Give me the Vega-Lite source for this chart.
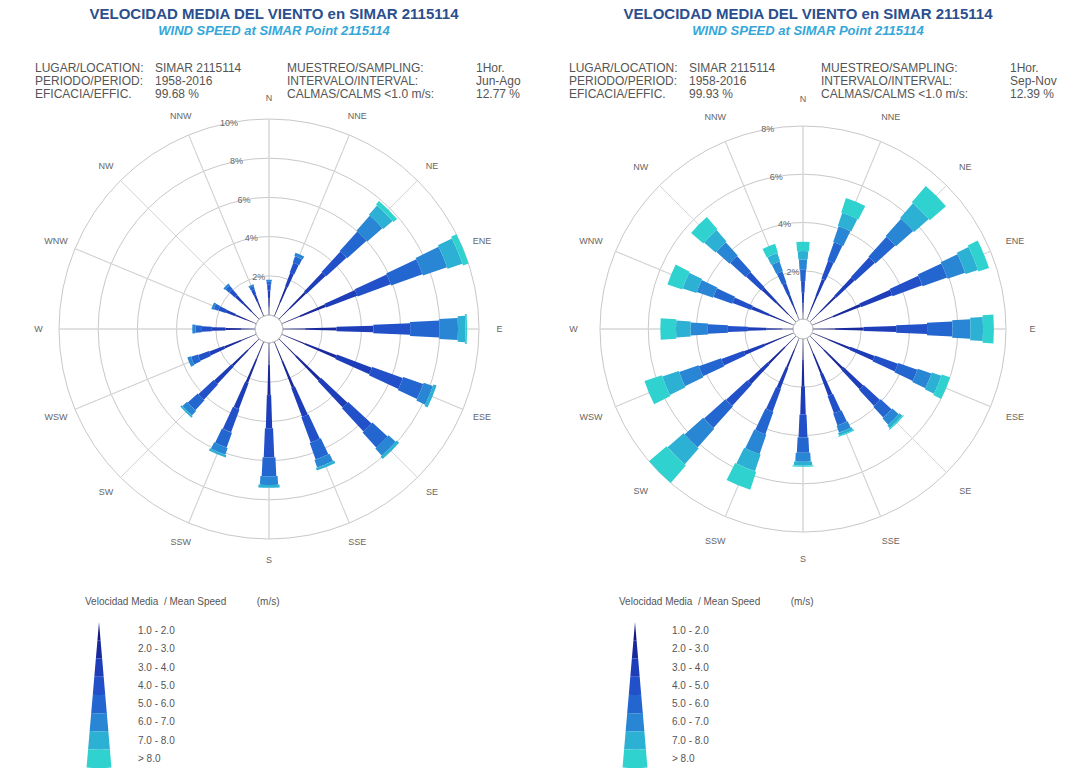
{
  "$schema": "https://vega.github.io/schema/vega-lite/v6.json",
  "background": "white",
  "padding": {"left": 19, "top": 7, "right": 0, "bottom": 0},
  "config": {
    "font": "Liberation Sans",
    "view": {"stroke": null},
    "title": {"font": "Liberation Sans", "subtitleFont": "Liberation Sans"}
  },
  "datasets": {
    "dirs": [
      {"d": "N", "a": 0}, {"d": "NNE", "a": 22.5}, {"d": "NE", "a": 45}, {"d": "ENE", "a": 67.5},
      {"d": "E", "a": 90}, {"d": "ESE", "a": 112.5}, {"d": "SE", "a": 135}, {"d": "SSE", "a": 157.5},
      {"d": "S", "a": 180}, {"d": "SSW", "a": 202.5}, {"d": "SW", "a": 225}, {"d": "WSW", "a": 247.5},
      {"d": "W", "a": 270}, {"d": "WNW", "a": 292.5}, {"d": "NW", "a": 315}, {"d": "NNW", "a": 337.5}
    ],
    "ringsL": [{"p": 2, "lab": "2%"}, {"p": 4, "lab": "4%"}, {"p": 6, "lab": "6%"}, {"p": 8, "lab": "8%"}, {"p": 10, "lab": "10%"}],
    "ringsR": [{"p": 2, "lab": "2%"}, {"p": 4, "lab": "4%"}, {"p": 6, "lab": "6%"}, {"p": 8, "lab": "8%"}],
    "legSeg": [
      {"c": 1, "lo": 1, "hi": 2}, {"c": 2, "lo": 2, "hi": 3}, {"c": 3, "lo": 3, "hi": 4}, {"c": 4, "lo": 4, "hi": 5},
      {"c": 5, "lo": 5, "hi": 6}, {"c": 6, "lo": 6, "hi": 7}, {"c": 7, "lo": 7, "hi": 8}, {"c": 8, "lo": 8, "hi": 9}
    ],
    "legLab": [
      {"lab": "1.0 - 2.0", "mid": 1.5}, {"lab": "2.0 - 3.0", "mid": 2.5}, {"lab": "3.0 - 4.0", "mid": 3.5},
      {"lab": "4.0 - 5.0", "mid": 4.5}, {"lab": "5.0 - 6.0", "mid": 5.5}, {"lab": "6.0 - 7.0", "mid": 6.5},
      {"lab": "7.0 - 8.0", "mid": 7.5}, {"lab": "> 8.0", "mid": 8.5}
    ],
    "L": [
      {"d":"N","a":0,"c":1,"v":0.4},{"d":"N","a":0,"c":2,"v":0.45},{"d":"N","a":0,"c":3,"v":0.4},{"d":"N","a":0,"c":4,"v":0.29},{"d":"N","a":0,"c":5,"v":0.18},{"d":"N","a":0,"c":6,"v":0.08},{"d":"N","a":0,"c":7,"v":0},{"d":"N","a":0,"c":8,"v":0},
      {"d":"NNE","a":22.5,"c":1,"v":0.75},{"d":"NNE","a":22.5,"c":2,"v":0.85},{"d":"NNE","a":22.5,"c":3,"v":0.75},{"d":"NNE","a":22.5,"c":4,"v":0.54},{"d":"NNE","a":22.5,"c":5,"v":0.34},{"d":"NNE","a":22.5,"c":6,"v":0.17},{"d":"NNE","a":22.5,"c":7,"v":0},{"d":"NNE","a":22.5,"c":8,"v":0},
      {"d":"NE","a":45,"c":1,"v":0.79},{"d":"NE","a":45,"c":2,"v":1.11},{"d":"NE","a":45,"c":3,"v":1.34},{"d":"NE","a":45,"c":4,"v":1.42},{"d":"NE","a":45,"c":5,"v":1.34},{"d":"NE","a":45,"c":6,"v":1.03},{"d":"NE","a":45,"c":7,"v":0.63},{"d":"NE","a":45,"c":8,"v":0.24},
      {"d":"ENE","a":67.5,"c":1,"v":1.0},{"d":"ENE","a":67.5,"c":2,"v":1.4},{"d":"ENE","a":67.5,"c":3,"v":1.7},{"d":"ENE","a":67.5,"c":4,"v":1.8},{"d":"ENE","a":67.5,"c":5,"v":1.7},{"d":"ENE","a":67.5,"c":6,"v":1.3},{"d":"ENE","a":67.5,"c":7,"v":0.8},{"d":"ENE","a":67.5,"c":8,"v":0.3},
      {"d":"E","a":90,"c":1,"v":1.13},{"d":"E","a":90,"c":2,"v":1.6},{"d":"E","a":90,"c":3,"v":1.88},{"d":"E","a":90,"c":4,"v":1.88},{"d":"E","a":90,"c":5,"v":1.5},{"d":"E","a":90,"c":6,"v":0.94},{"d":"E","a":90,"c":7,"v":0.38},{"d":"E","a":90,"c":8,"v":0.09},
      {"d":"ESE","a":112.5,"c":1,"v":1.25},{"d":"ESE","a":112.5,"c":2,"v":1.74},{"d":"ESE","a":112.5,"c":3,"v":1.91},{"d":"ESE","a":112.5,"c":4,"v":1.66},{"d":"ESE","a":112.5,"c":5,"v":1.08},{"d":"ESE","a":112.5,"c":6,"v":0.5},{"d":"ESE","a":112.5,"c":7,"v":0.17},{"d":"ESE","a":112.5,"c":8,"v":0},
      {"d":"SE","a":135,"c":1,"v":1.22},{"d":"SE","a":135,"c":2,"v":1.7},{"d":"SE","a":135,"c":3,"v":1.86},{"d":"SE","a":135,"c":4,"v":1.62},{"d":"SE","a":135,"c":5,"v":1.05},{"d":"SE","a":135,"c":6,"v":0.49},{"d":"SE","a":135,"c":7,"v":0.16},{"d":"SE","a":135,"c":8,"v":0},
      {"d":"SSE","a":157.5,"c":1,"v":1.04},{"d":"SSE","a":157.5,"c":2,"v":1.45},{"d":"SSE","a":157.5,"c":3,"v":1.59},{"d":"SSE","a":157.5,"c":4,"v":1.38},{"d":"SSE","a":157.5,"c":5,"v":0.9},{"d":"SSE","a":157.5,"c":6,"v":0.41},{"d":"SSE","a":157.5,"c":7,"v":0.14},{"d":"SSE","a":157.5,"c":8,"v":0},
      {"d":"S","a":180,"c":1,"v":1.11},{"d":"S","a":180,"c":2,"v":1.55},{"d":"S","a":180,"c":3,"v":1.7},{"d":"S","a":180,"c":4,"v":1.48},{"d":"S","a":180,"c":5,"v":0.96},{"d":"S","a":180,"c":6,"v":0.44},{"d":"S","a":180,"c":7,"v":0.15},{"d":"S","a":180,"c":8,"v":0},
      {"d":"SSW","a":202.5,"c":1,"v":0.93},{"d":"SSW","a":202.5,"c":2,"v":1.3},{"d":"SSW","a":202.5,"c":3,"v":1.43},{"d":"SSW","a":202.5,"c":4,"v":1.24},{"d":"SSW","a":202.5,"c":5,"v":0.81},{"d":"SSW","a":202.5,"c":6,"v":0.37},{"d":"SSW","a":202.5,"c":7,"v":0.12},{"d":"SSW","a":202.5,"c":8,"v":0},
      {"d":"SW","a":225,"c":1,"v":0.8},{"d":"SW","a":225,"c":2,"v":1.11},{"d":"SW","a":225,"c":3,"v":1.22},{"d":"SW","a":225,"c":4,"v":1.06},{"d":"SW","a":225,"c":5,"v":0.69},{"d":"SW","a":225,"c":6,"v":0.32},{"d":"SW","a":225,"c":7,"v":0.1},{"d":"SW","a":225,"c":8,"v":0},
      {"d":"WSW","a":247.5,"c":1,"v":0.81},{"d":"WSW","a":247.5,"c":2,"v":0.93},{"d":"WSW","a":247.5,"c":3,"v":0.81},{"d":"WSW","a":247.5,"c":4,"v":0.59},{"d":"WSW","a":247.5,"c":5,"v":0.37},{"d":"WSW","a":247.5,"c":6,"v":0.19},{"d":"WSW","a":247.5,"c":7,"v":0},{"d":"WSW","a":247.5,"c":8,"v":0},
      {"d":"W","a":270,"c":1,"v":0.7},{"d":"W","a":270,"c":2,"v":0.8},{"d":"W","a":270,"c":3,"v":0.7},{"d":"W","a":270,"c":4,"v":0.51},{"d":"W","a":270,"c":5,"v":0.32},{"d":"W","a":270,"c":6,"v":0.17},{"d":"W","a":270,"c":7,"v":0},{"d":"W","a":270,"c":8,"v":0},
      {"d":"WNW","a":292.5,"c":1,"v":0.53},{"d":"WNW","a":292.5,"c":2,"v":0.6},{"d":"WNW","a":292.5,"c":3,"v":0.53},{"d":"WNW","a":292.5,"c":4,"v":0.38},{"d":"WNW","a":292.5,"c":5,"v":0.24},{"d":"WNW","a":292.5,"c":6,"v":0.12},{"d":"WNW","a":292.5,"c":7,"v":0},{"d":"WNW","a":292.5,"c":8,"v":0},
      {"d":"NW","a":315,"c":1,"v":0.53},{"d":"NW","a":315,"c":2,"v":0.6},{"d":"NW","a":315,"c":3,"v":0.53},{"d":"NW","a":315,"c":4,"v":0.38},{"d":"NW","a":315,"c":5,"v":0.24},{"d":"NW","a":315,"c":6,"v":0.12},{"d":"NW","a":315,"c":7,"v":0},{"d":"NW","a":315,"c":8,"v":0},
      {"d":"NNW","a":337.5,"c":1,"v":0.37},{"d":"NNW","a":337.5,"c":2,"v":0.43},{"d":"NNW","a":337.5,"c":3,"v":0.37},{"d":"NNW","a":337.5,"c":4,"v":0.27},{"d":"NNW","a":337.5,"c":5,"v":0.17},{"d":"NNW","a":337.5,"c":6,"v":0.09},{"d":"NNW","a":337.5,"c":7,"v":0},{"d":"NNW","a":337.5,"c":8,"v":0}
    ],
    "R": [
      {"d":"N","a":0,"c":1,"v":0.26},{"d":"N","a":0,"c":2,"v":0.38},{"d":"N","a":0,"c":3,"v":0.45},{"d":"N","a":0,"c":4,"v":0.48},{"d":"N","a":0,"c":5,"v":0.48},{"d":"N","a":0,"c":6,"v":0.42},{"d":"N","a":0,"c":7,"v":0.35},{"d":"N","a":0,"c":8,"v":0.38},
      {"d":"NNE","a":22.5,"c":1,"v":0.42},{"d":"NNE","a":22.5,"c":2,"v":0.64},{"d":"NNE","a":22.5,"c":3,"v":0.74},{"d":"NNE","a":22.5,"c":4,"v":0.8},{"d":"NNE","a":22.5,"c":5,"v":0.8},{"d":"NNE","a":22.5,"c":6,"v":0.69},{"d":"NNE","a":22.5,"c":7,"v":0.58},{"d":"NNE","a":22.5,"c":8,"v":0.63},
      {"d":"NE","a":45,"c":1,"v":0.59},{"d":"NE","a":45,"c":2,"v":0.89},{"d":"NE","a":45,"c":3,"v":1.04},{"d":"NE","a":45,"c":4,"v":1.11},{"d":"NE","a":45,"c":5,"v":1.11},{"d":"NE","a":45,"c":6,"v":0.96},{"d":"NE","a":45,"c":7,"v":0.81},{"d":"NE","a":45,"c":8,"v":0.89},
      {"d":"ENE","a":67.5,"c":1,"v":0.92},{"d":"ENE","a":67.5,"c":2,"v":1.23},{"d":"ENE","a":67.5,"c":3,"v":1.39},{"d":"ENE","a":67.5,"c":4,"v":1.31},{"d":"ENE","a":67.5,"c":5,"v":1.08},{"d":"ENE","a":67.5,"c":6,"v":0.77},{"d":"ENE","a":67.5,"c":7,"v":0.54},{"d":"ENE","a":67.5,"c":8,"v":0.46},
      {"d":"E","a":90,"c":1,"v":0.9},{"d":"E","a":90,"c":2,"v":1.2},{"d":"E","a":90,"c":3,"v":1.35},{"d":"E","a":90,"c":4,"v":1.28},{"d":"E","a":90,"c":5,"v":1.05},{"d":"E","a":90,"c":6,"v":0.75},{"d":"E","a":90,"c":7,"v":0.52},{"d":"E","a":90,"c":8,"v":0.45},
      {"d":"ESE","a":112.5,"c":1,"v":0.72},{"d":"ESE","a":112.5,"c":2,"v":0.96},{"d":"ESE","a":112.5,"c":3,"v":1.08},{"d":"ESE","a":112.5,"c":4,"v":1.02},{"d":"ESE","a":112.5,"c":5,"v":0.84},{"d":"ESE","a":112.5,"c":6,"v":0.6},{"d":"ESE","a":112.5,"c":7,"v":0.42},{"d":"ESE","a":112.5,"c":8,"v":0.36},
      {"d":"SE","a":135,"c":1,"v":0.82},{"d":"SE","a":135,"c":2,"v":1.07},{"d":"SE","a":135,"c":3,"v":1.12},{"d":"SE","a":135,"c":4,"v":0.92},{"d":"SE","a":135,"c":5,"v":0.61},{"d":"SE","a":135,"c":6,"v":0.36},{"d":"SE","a":135,"c":7,"v":0.15},{"d":"SE","a":135,"c":8,"v":0.05},
      {"d":"SSE","a":157.5,"c":1,"v":0.69},{"d":"SSE","a":157.5,"c":2,"v":0.9},{"d":"SSE","a":157.5,"c":3,"v":0.95},{"d":"SSE","a":157.5,"c":4,"v":0.77},{"d":"SSE","a":157.5,"c":5,"v":0.52},{"d":"SSE","a":157.5,"c":6,"v":0.3},{"d":"SSE","a":157.5,"c":7,"v":0.13},{"d":"SSE","a":157.5,"c":8,"v":0.04},
      {"d":"S","a":180,"c":1,"v":0.85},{"d":"S","a":180,"c":2,"v":1.11},{"d":"S","a":180,"c":3,"v":1.17},{"d":"S","a":180,"c":4,"v":0.95},{"d":"S","a":180,"c":5,"v":0.64},{"d":"S","a":180,"c":6,"v":0.37},{"d":"S","a":180,"c":7,"v":0.16},{"d":"S","a":180,"c":8,"v":0.05},
      {"d":"SSW","a":202.5,"c":1,"v":0.53},{"d":"SSW","a":202.5,"c":2,"v":0.79},{"d":"SSW","a":202.5,"c":3,"v":0.92},{"d":"SSW","a":202.5,"c":4,"v":0.99},{"d":"SSW","a":202.5,"c":5,"v":0.99},{"d":"SSW","a":202.5,"c":6,"v":0.86},{"d":"SSW","a":202.5,"c":7,"v":0.73},{"d":"SSW","a":202.5,"c":8,"v":0.79},
      {"d":"SW","a":225,"c":1,"v":0.64},{"d":"SW","a":225,"c":2,"v":0.96},{"d":"SW","a":225,"c":3,"v":1.12},{"d":"SW","a":225,"c":4,"v":1.2},{"d":"SW","a":225,"c":5,"v":1.2},{"d":"SW","a":225,"c":6,"v":1.04},{"d":"SW","a":225,"c":7,"v":0.88},{"d":"SW","a":225,"c":8,"v":0.96},
      {"d":"WSW","a":247.5,"c":1,"v":0.52},{"d":"WSW","a":247.5,"c":2,"v":0.78},{"d":"WSW","a":247.5,"c":3,"v":0.91},{"d":"WSW","a":247.5,"c":4,"v":0.98},{"d":"WSW","a":247.5,"c":5,"v":0.98},{"d":"WSW","a":247.5,"c":6,"v":0.85},{"d":"WSW","a":247.5,"c":7,"v":0.72},{"d":"WSW","a":247.5,"c":8,"v":0.76},
      {"d":"W","a":270,"c":1,"v":0.44},{"d":"W","a":270,"c":2,"v":0.66},{"d":"W","a":270,"c":3,"v":0.77},{"d":"W","a":270,"c":4,"v":0.83},{"d":"W","a":270,"c":5,"v":0.83},{"d":"W","a":270,"c":6,"v":0.72},{"d":"W","a":270,"c":7,"v":0.6},{"d":"W","a":270,"c":8,"v":0.65},
      {"d":"WNW","a":292.5,"c":1,"v":0.44},{"d":"WNW","a":292.5,"c":2,"v":0.66},{"d":"WNW","a":292.5,"c":3,"v":0.77},{"d":"WNW","a":292.5,"c":4,"v":0.83},{"d":"WNW","a":292.5,"c":5,"v":0.83},{"d":"WNW","a":292.5,"c":6,"v":0.72},{"d":"WNW","a":292.5,"c":7,"v":0.6},{"d":"WNW","a":292.5,"c":8,"v":0.65},
      {"d":"NW","a":315,"c":1,"v":0.46},{"d":"NW","a":315,"c":2,"v":0.68},{"d":"NW","a":315,"c":3,"v":0.8},{"d":"NW","a":315,"c":4,"v":0.86},{"d":"NW","a":315,"c":5,"v":0.86},{"d":"NW","a":315,"c":6,"v":0.74},{"d":"NW","a":315,"c":7,"v":0.63},{"d":"NW","a":315,"c":8,"v":0.67},
      {"d":"NNW","a":337.5,"c":1,"v":0.26},{"d":"NNW","a":337.5,"c":2,"v":0.4},{"d":"NNW","a":337.5,"c":3,"v":0.46},{"d":"NNW","a":337.5,"c":4,"v":0.5},{"d":"NNW","a":337.5,"c":5,"v":0.5},{"d":"NNW","a":337.5,"c":6,"v":0.43},{"d":"NNW","a":337.5,"c":7,"v":0.36},{"d":"NNW","a":337.5,"c":8,"v":0.39}
    ]
  },
  "spacing": 24,
  "hconcat": [
    {
      "title": {"text": "VELOCIDAD MEDIA DEL VIENTO en SIMAR 2115114", "subtitle": "WIND SPEED at SIMAR Point 2115114", "anchor": "middle", "offset": 6, "fontSize": 15, "fontWeight": "bold", "color": "#2b4f8e", "subtitleFontSize": 13, "subtitleFontWeight": "bold", "subtitleFontStyle": "italic", "subtitleColor": "#35a6d8", "subtitlePadding": 3},
      "spacing": 0,
      "bounds": "flush",
      "vconcat": [
        {
          "spacing": 0,
          "bounds": "flush",
          "hconcat": [
            {"width": 136, "height": 1, "data": {"values": []}, "mark": "point",
             "title": {"text": ["LUGAR/LOCATION:", "PERIODO/PERIOD:", "EFICACIA/EFFIC."], "orient": "bottom", "anchor": "start", "offset": 18, "dx": 16, "fontSize": 12, "fontWeight": "normal", "color": "#555555", "lineHeight": 13}},
            {"width": 132, "height": 1, "data": {"values": []}, "mark": "point",
             "title": {"text": ["SIMAR 2115114", "1958-2016", "99.68 %"], "orient": "bottom", "anchor": "start", "offset": 18, "fontSize": 12, "fontWeight": "normal", "color": "#555555", "lineHeight": 13}},
            {"width": 189, "height": 1, "data": {"values": []}, "mark": "point",
             "title": {"text": ["MUESTREO/SAMPLING:", "INTERVALO/INTERVAL:", "CALMAS/CALMS <1.0 m/s:"], "orient": "bottom", "anchor": "start", "offset": 18, "fontSize": 12, "fontWeight": "normal", "color": "#555555", "lineHeight": 13}},
            {"width": 53, "height": 1, "data": {"values": []}, "mark": "point",
             "title": {"text": ["1Hor.", "Jun-Ago", "12.77 %"], "orient": "bottom", "anchor": "start", "offset": 18, "fontSize": 12, "fontWeight": "normal", "color": "#555555", "lineHeight": 13}}
          ]
        },
        {
          "width": 500, "height": 570,
          "layer": [
            {"data": {"name": "ringsL"}, "mark": {"type": "arc", "theta": 0, "theta2": 6.2832, "filled": false, "stroke": "#c8c8c8", "strokeWidth": 1},
             "encoding": {"radius": {"field": "p", "type": "quantitative", "stack": false, "scale": {"type": "linear", "domain": [0, 10], "range": [14, 210]}}}},
            {"data": {"name": "dirs"}, "mark": {"type": "arc", "filled": false, "stroke": "#d6d6d6", "strokeWidth": 1},
             "encoding": {
               "theta": {"field": "a", "type": "quantitative", "stack": false, "scale": {"type": "linear", "domain": [0, 360], "range": [0, 6.283185]}},
               "theta2": {"field": "a"},
               "radius": {"datum": 10, "type": "quantitative", "scale": {"type": "linear", "domain": [0, 10], "range": [14, 210]}},
               "radius2": {"datum": 0}}},
            {"data": {"name": "L"},
             "transform": [
               {"calculate": "0.35 + 0.5 * datum.c", "as": "hw"},
               {"calculate": "datum.a - datum.hw", "as": "t0"},
               {"calculate": "datum.a + datum.hw", "as": "t1"},
               {"stack": "v", "groupby": ["d"], "sort": [{"field": "c", "order": "ascending"}], "as": ["r0", "r1"]}
             ],
             "mark": {"type": "arc"},
             "encoding": {
               "theta": {"field": "t0", "type": "quantitative", "stack": false, "scale": {"type": "linear", "domain": [0, 360], "range": [0, 6.283185]}},
               "theta2": {"field": "t1"},
               "radius": {"field": "r1", "type": "quantitative", "stack": false, "scale": {"type": "linear", "domain": [0, 10], "range": [14, 210]}},
               "radius2": {"field": "r0"},
               "color": {"field": "c", "type": "ordinal", "legend": null, "scale": {"domain": [1, 2, 3, 4, 5, 6, 7, 8], "range": ["#161a7e", "#1a2a9c", "#1e3db8", "#2150c8", "#2466d0", "#2886d4", "#2cb0d4", "#30d2d0"]}}}},
            {"data": {"name": "dirs"}, "mark": {"type": "text", "fontSize": 9, "color": "#666666"},
             "encoding": {
               "theta": {"field": "a", "type": "quantitative", "stack": false, "scale": {"type": "linear", "domain": [0, 360], "range": [0, 6.283185]}},
               "radius": {"datum": 11.05, "type": "quantitative", "scale": {"type": "linear", "domain": [0, 10], "range": [14, 210]}},
               "text": {"field": "d"}}},
            {"data": {"name": "ringsL"}, "mark": {"type": "text", "fontSize": 9, "color": "#666666"},
             "encoding": {
               "theta": {"datum": 349, "type": "quantitative", "scale": {"type": "linear", "domain": [0, 360], "range": [0, 6.283185]}},
               "radius": {"field": "p", "type": "quantitative", "scale": {"type": "linear", "domain": [0, 10], "range": [14, 210]}},
               "text": {"field": "lab"}}}
          ]
        },
        {
          "width": 500, "height": 154,
          "title": {"text": "Velocidad Media\u00a0\u00a0/ Mean Speed\u00a0\u00a0\u00a0\u00a0\u00a0\u00a0\u00a0\u00a0\u00a0\u00a0\u00a0(m/s)", "anchor": "start", "dx": 66, "offset": 7, "fontSize": 10, "fontWeight": "normal", "color": "#555555"},
          "layer": [
            {"data": {"name": "legSeg"}, "mark": {"type": "arc", "theta": 3.0562, "theta2": 3.227},
             "encoding": {
               "x": {"datum": "swatch", "type": "nominal", "axis": null, "scale": {"type": "point", "domain": ["swatch", "label"], "range": [80, 119], "padding": 0}},
               "y": {"datum": 1, "type": "quantitative", "axis": null, "scale": {"domain": [1, 9], "range": [8, 154]}},
               "radius": {"field": "hi", "type": "quantitative", "stack": false, "scale": {"type": "linear", "domain": [1, 9], "range": [0, 146]}},
               "radius2": {"field": "lo"},
               "color": {"field": "c", "type": "ordinal", "legend": null, "scale": {"domain": [1, 2, 3, 4, 5, 6, 7, 8], "range": ["#161a7e", "#1a2a9c", "#1e3db8", "#2150c8", "#2466d0", "#2886d4", "#2cb0d4", "#30d2d0"]}}}},
            {"data": {"name": "legLab"}, "mark": {"type": "text", "align": "left", "fontSize": 10, "color": "#555555"},
             "encoding": {
               "x": {"datum": "label", "type": "nominal", "axis": null, "scale": {"type": "point", "domain": ["swatch", "label"], "range": [80, 119], "padding": 0}},
               "y": {"field": "mid", "type": "quantitative", "axis": null, "scale": {"domain": [1, 9], "range": [8, 154]}},
               "text": {"field": "lab"}}}
          ]
        }
      ]
    },
    {
      "title": {"text": "VELOCIDAD MEDIA DEL VIENTO en SIMAR 2115114", "subtitle": "WIND SPEED at SIMAR Point 2115114", "anchor": "middle", "offset": 6, "fontSize": 15, "fontWeight": "bold", "color": "#2b4f8e", "subtitleFontSize": 13, "subtitleFontWeight": "bold", "subtitleFontStyle": "italic", "subtitleColor": "#35a6d8", "subtitlePadding": 3},
      "spacing": 0,
      "bounds": "flush",
      "vconcat": [
        {
          "spacing": 0,
          "bounds": "flush",
          "hconcat": [
            {"width": 136, "height": 1, "data": {"values": []}, "mark": "point",
             "title": {"text": ["LUGAR/LOCATION:", "PERIODO/PERIOD:", "EFICACIA/EFFIC."], "orient": "bottom", "anchor": "start", "offset": 18, "dx": 16, "fontSize": 12, "fontWeight": "normal", "color": "#555555", "lineHeight": 13}},
            {"width": 132, "height": 1, "data": {"values": []}, "mark": "point",
             "title": {"text": ["SIMAR 2115114", "1958-2016", "99.93 %"], "orient": "bottom", "anchor": "start", "offset": 18, "fontSize": 12, "fontWeight": "normal", "color": "#555555", "lineHeight": 13}},
            {"width": 189, "height": 1, "data": {"values": []}, "mark": "point",
             "title": {"text": ["MUESTREO/SAMPLING:", "INTERVALO/INTERVAL:", "CALMAS/CALMS <1.0 m/s:"], "orient": "bottom", "anchor": "start", "offset": 18, "fontSize": 12, "fontWeight": "normal", "color": "#555555", "lineHeight": 13}},
            {"width": 53, "height": 1, "data": {"values": []}, "mark": "point",
             "title": {"text": ["1Hor.", "Sep-Nov", "12.39 %"], "orient": "bottom", "anchor": "start", "offset": 18, "fontSize": 12, "fontWeight": "normal", "color": "#555555", "lineHeight": 13}}
          ]
        },
        {
          "width": 500, "height": 570,
          "layer": [
            {"data": {"name": "ringsR"}, "mark": {"type": "arc", "theta": 0, "theta2": 6.2832, "filled": false, "stroke": "#c8c8c8", "strokeWidth": 1},
             "encoding": {"radius": {"field": "p", "type": "quantitative", "stack": false, "scale": {"type": "linear", "domain": [0, 8], "range": [10, 203]}}}},
            {"data": {"name": "dirs"}, "mark": {"type": "arc", "filled": false, "stroke": "#d6d6d6", "strokeWidth": 1},
             "encoding": {
               "theta": {"field": "a", "type": "quantitative", "stack": false, "scale": {"type": "linear", "domain": [0, 360], "range": [0, 6.283185]}},
               "theta2": {"field": "a"},
               "radius": {"datum": 8, "type": "quantitative", "scale": {"type": "linear", "domain": [0, 8], "range": [10, 203]}},
               "radius2": {"datum": 0}}},
            {"data": {"name": "R"},
             "transform": [
               {"calculate": "0.35 + 0.5 * datum.c", "as": "hw"},
               {"calculate": "datum.a - datum.hw", "as": "t0"},
               {"calculate": "datum.a + datum.hw", "as": "t1"},
               {"stack": "v", "groupby": ["d"], "sort": [{"field": "c", "order": "ascending"}], "as": ["r0", "r1"]}
             ],
             "mark": {"type": "arc"},
             "encoding": {
               "theta": {"field": "t0", "type": "quantitative", "stack": false, "scale": {"type": "linear", "domain": [0, 360], "range": [0, 6.283185]}},
               "theta2": {"field": "t1"},
               "radius": {"field": "r1", "type": "quantitative", "stack": false, "scale": {"type": "linear", "domain": [0, 8], "range": [10, 203]}},
               "radius2": {"field": "r0"},
               "color": {"field": "c", "type": "ordinal", "legend": null, "scale": {"domain": [1, 2, 3, 4, 5, 6, 7, 8], "range": ["#161a7e", "#1a2a9c", "#1e3db8", "#2150c8", "#2466d0", "#2886d4", "#2cb0d4", "#30d2d0"]}}}},
            {"data": {"name": "dirs"}, "mark": {"type": "text", "fontSize": 9, "color": "#666666"},
             "encoding": {
               "theta": {"field": "a", "type": "quantitative", "stack": false, "scale": {"type": "linear", "domain": [0, 360], "range": [0, 6.283185]}},
               "radius": {"datum": 9.1, "type": "quantitative", "scale": {"type": "linear", "domain": [0, 8], "range": [10, 203]}},
               "text": {"field": "d"}}},
            {"data": {"name": "ringsR"}, "mark": {"type": "text", "fontSize": 9, "color": "#666666"},
             "encoding": {
               "theta": {"datum": 350, "type": "quantitative", "scale": {"type": "linear", "domain": [0, 360], "range": [0, 6.283185]}},
               "radius": {"field": "p", "type": "quantitative", "scale": {"type": "linear", "domain": [0, 8], "range": [10, 203]}},
               "text": {"field": "lab"}}}
          ]
        },
        {
          "width": 500, "height": 154,
          "title": {"text": "Velocidad Media\u00a0\u00a0/ Mean Speed\u00a0\u00a0\u00a0\u00a0\u00a0\u00a0\u00a0\u00a0\u00a0\u00a0\u00a0(m/s)", "anchor": "start", "dx": 66, "offset": 7, "fontSize": 10, "fontWeight": "normal", "color": "#555555"},
          "layer": [
            {"data": {"name": "legSeg"}, "mark": {"type": "arc", "theta": 3.0562, "theta2": 3.227},
             "encoding": {
               "x": {"datum": "swatch", "type": "nominal", "axis": null, "scale": {"type": "point", "domain": ["swatch", "label"], "range": [82, 119], "padding": 0}},
               "y": {"datum": 1, "type": "quantitative", "axis": null, "scale": {"domain": [1, 9], "range": [8, 154]}},
               "radius": {"field": "hi", "type": "quantitative", "stack": false, "scale": {"type": "linear", "domain": [1, 9], "range": [0, 146]}},
               "radius2": {"field": "lo"},
               "color": {"field": "c", "type": "ordinal", "legend": null, "scale": {"domain": [1, 2, 3, 4, 5, 6, 7, 8], "range": ["#161a7e", "#1a2a9c", "#1e3db8", "#2150c8", "#2466d0", "#2886d4", "#2cb0d4", "#30d2d0"]}}}},
            {"data": {"name": "legLab"}, "mark": {"type": "text", "align": "left", "fontSize": 10, "color": "#555555"},
             "encoding": {
               "x": {"datum": "label", "type": "nominal", "axis": null, "scale": {"type": "point", "domain": ["swatch", "label"], "range": [82, 119], "padding": 0}},
               "y": {"field": "mid", "type": "quantitative", "axis": null, "scale": {"domain": [1, 9], "range": [8, 154]}},
               "text": {"field": "lab"}}}
          ]
        }
      ]
    }
  ]
}
